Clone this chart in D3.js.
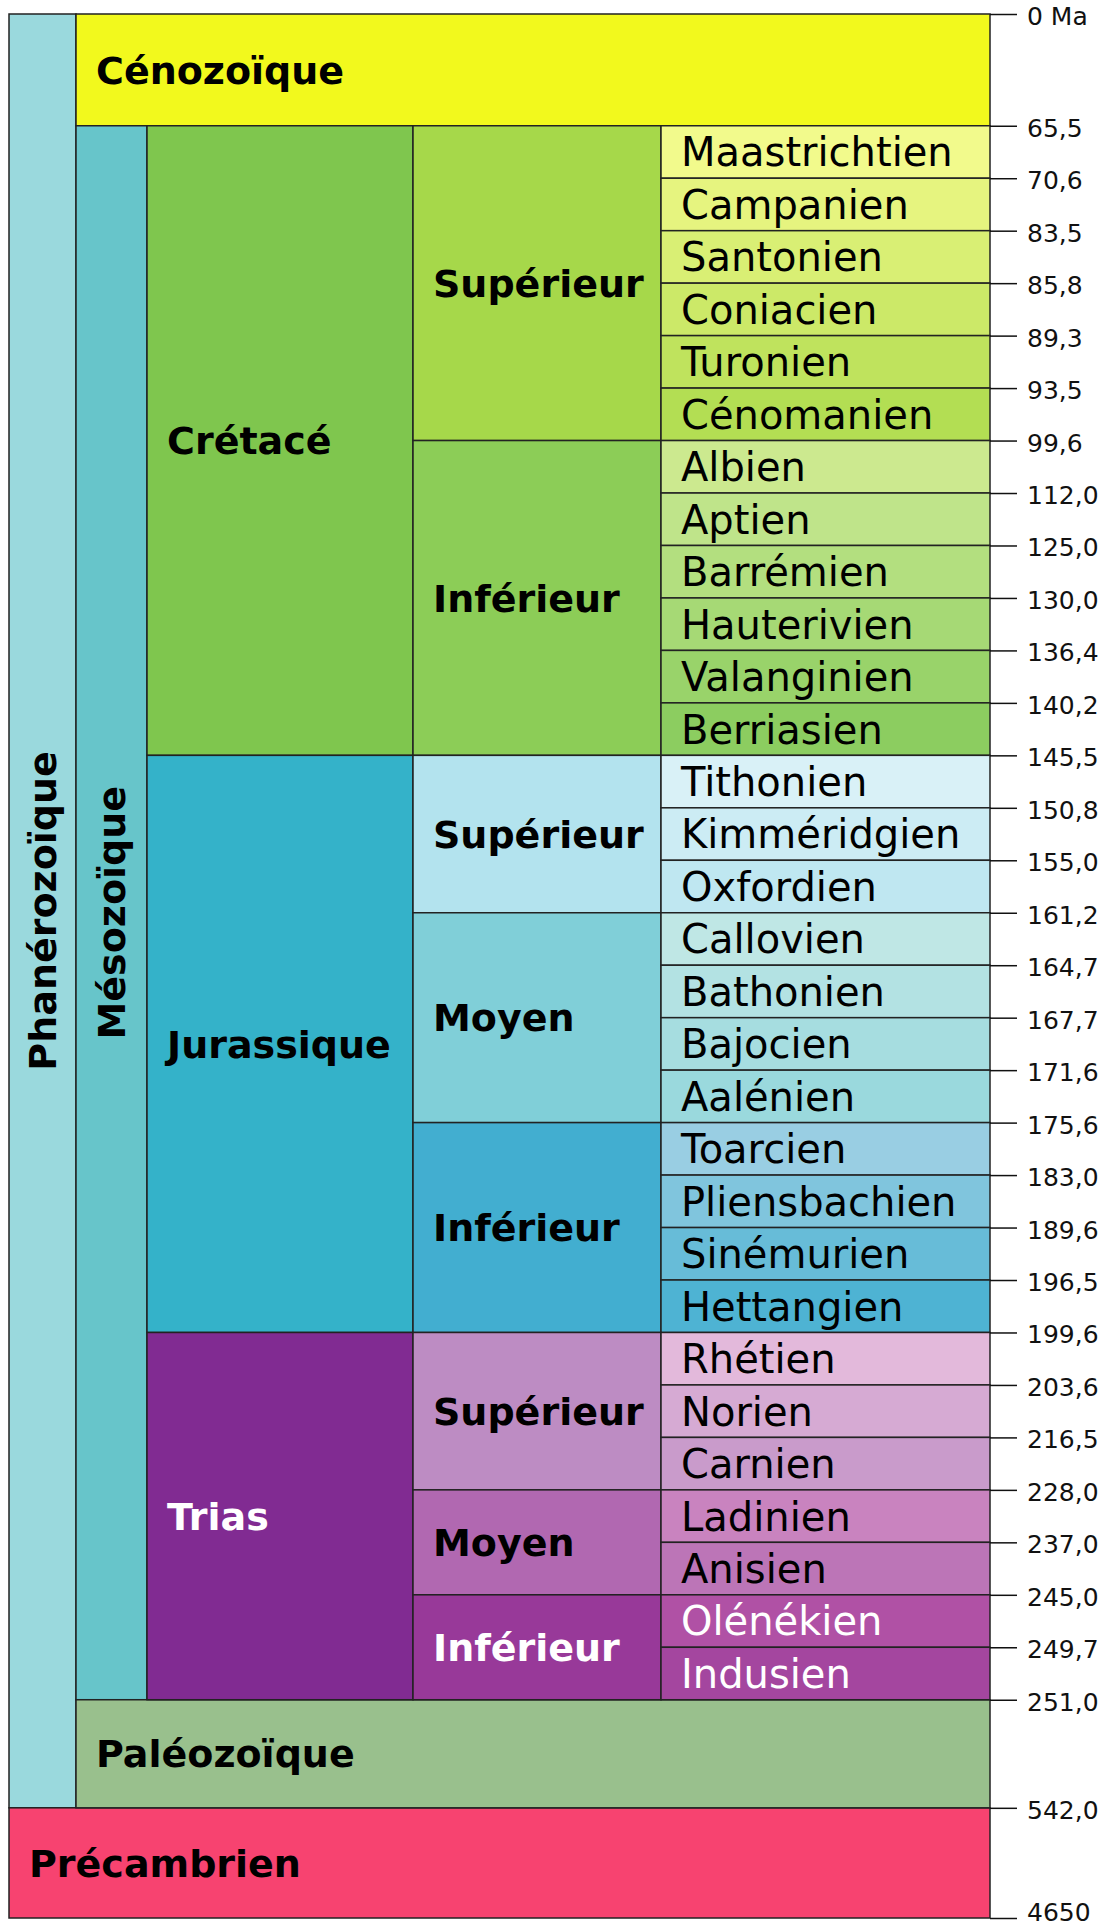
<!DOCTYPE html>
<html>
<head>
<meta charset="utf-8">
<script src="https://cdn.jsdelivr.net/npm/d3@7"></script>
<style>
  html, body { margin: 0; padding: 0; background: #fff; }
  svg { display: block; }
</style>
</head>
<body>
<div id="chart"></div>
<script>
// ---------- DATA ----------
// Boundary ages (Ma), top to bottom
const boundaries = [0, 65.5, 70.6, 83.5, 85.8, 89.3, 93.5, 99.6, 112.0, 125.0, 130.0, 136.4, 140.2,
  145.5, 150.8, 155.0, 161.2, 164.7, 167.7, 171.6, 175.6, 183.0, 189.6, 196.5, 199.6,
  203.6, 216.5, 228.0, 237.0, 245.0, 249.7, 251.0, 542.0, 4650];
const tickLabels = ["0 Ma", "65,5", "70,6", "83,5", "85,8", "89,3", "93,5", "99,6", "112,0", "125,0", "130,0", "136,4", "140,2",
  "145,5", "150,8", "155,0", "161,2", "164,7", "167,7", "171,6", "175,6", "183,0", "189,6", "196,5", "199,6",
  "203,6", "216,5", "228,0", "237,0", "245,0", "249,7", "251,0", "542,0", "4650"];

// Stages (étages), top to bottom; stage i spans boundaries[i+1]..boundaries[i+2]
const stageNames = ["Maastrichtien", "Campanien", "Santonien", "Coniacien", "Turonien", "Cénomanien",
  "Albien", "Aptien", "Barrémien", "Hauterivien", "Valanginien", "Berriasien",
  "Tithonien", "Kimméridgien", "Oxfordien", "Callovien", "Bathonien", "Bajocien", "Aalénien",
  "Toarcien", "Pliensbachien", "Sinémurien", "Hettangien",
  "Rhétien", "Norien", "Carnien", "Ladinien", "Anisien", "Olénékien", "Indusien"];
const stageColors = ["#f2fa8c", "#e6f47f", "#d9ef74", "#cce968", "#bfe35d", "#b3de53",
  "#cce98f", "#bfe48a", "#b3df7f", "#a6d975", "#99d36a", "#8ccd60",
  "#d9f1f7", "#ccecf4", "#bfe7f1", "#bfe7e5", "#b3e2e3", "#a6dde0", "#9ad9dd",
  "#99cee3", "#80c5dd", "#67bcd8", "#4eb3d3",
  "#e3b9db", "#d6aad3", "#c99bcb", "#c983bf", "#bc75b7", "#b051a5", "#a4469f"];
const stageText = ["#000","#000","#000","#000","#000","#000","#000","#000","#000","#000","#000","#000",
  "#000","#000","#000","#000","#000","#000","#000","#000","#000","#000","#000",
  "#000","#000","#000","#000","#000","#fff","#fff"];

// Epochs (séries)
const epochNames = ["Supérieur", "Inférieur", "Supérieur", "Moyen", "Inférieur", "Supérieur", "Moyen", "Inférieur"];
const epochStart = [65.5, 99.6, 145.5, 161.2, 175.6, 199.6, 228.0, 245.0];
const epochEnd   = [99.6, 145.5, 161.2, 175.6, 199.6, 228.0, 245.0, 251.0];
const epochColors = ["#a6d84a", "#8ccd57", "#b3e3ee", "#80cfd8", "#42aed0", "#bd8cc3", "#b168b1", "#983999"];
const epochText = ["#000", "#000", "#000", "#000", "#000", "#000", "#000", "#fff"];

// Periods (systèmes)
const periodNames = ["Crétacé", "Jurassique", "Trias"];
const periodStart = [65.5, 145.5, 199.6];
const periodEnd   = [145.5, 199.6, 251.0];
const periodColors = ["#7fc64e", "#34b2c9", "#812b92"];
const periodText = ["#000", "#000", "#fff"];

// Eras (ères)
const eraNames = ["Cénozoïque", "Mésozoïque", "Paléozoïque"];
const eraStart = [0, 65.5, 251.0];
const eraEnd   = [65.5, 251.0, 542.0];
const eraColors = ["#f2f91d", "#67c5ca", "#99c08d"];

// Eons (éons)
const eonNames = ["Phanérozoïque", "Précambrien"];
const eonStart = [0, 542.0];
const eonEnd   = [542.0, 4650];
const eonColors = ["#9ad9dd", "#f74370"];

// ---------- LAYOUT ----------
const W = 1112, H = 1926;
const yTop = 14, yBottom = 1918;
const colX = [9, 76, 147, 413, 661, 990];   // column edges
const tickLen = 27;
const pad = 20;
// display slots: each stage takes one slot, big units a bit more than two
const bigSlots = {0: 2.13, 31: 2.06, 32: 2.1}; // index of boundary interval -> slots
const slots = [0];
for (let i = 1; i < boundaries.length; i++) {
  slots.push(slots[i - 1] + (bigSlots[i - 1] !== undefined ? bigSlots[i - 1] : 1));
}
const slotScale = d3.scaleLinear().domain([0, slots[slots.length - 1]]).range([yTop, yBottom]);
const y = d3.scaleLinear().domain(boundaries).range(slots.map(s => slotScale(s)));

const svg = d3.select("#chart").append("svg").attr("width", W).attr("height", H);
const FONT = "'DejaVu Sans', sans-serif";
const stroke = "#222", sw = 1.5;

function box(x0, x1, a0, a1, fill) {
  svg.append("rect")
    .attr("x", x0).attr("y", y(a0))
    .attr("width", x1 - x0).attr("height", y(a1) - y(a0))
    .attr("fill", fill).attr("stroke", stroke).attr("stroke-width", sw);
}
function label(x, a0, a1, txt, color, bold, size) {
  svg.append("text")
    .attr("x", x).attr("y", (y(a0) + y(a1)) / 2)
    .attr("dy", "0.36em")
    .attr("font-family", FONT)
    .attr("font-weight", bold ? "bold" : "normal")
    .attr("font-size", size)
    .attr("fill", color)
    .text(txt);
}
function vlabel(x0, x1, a0, a1, txt, size) {
  const cx = (x0 + x1) / 2, cy = (y(a0) + y(a1)) / 2;
  svg.append("text")
    .attr("transform", `translate(${cx},${cy}) rotate(-90)`)
    .attr("text-anchor", "middle")
    .attr("dy", "0.36em")
    .attr("font-family", FONT).attr("font-weight", "bold")
    .attr("font-size", size).attr("fill", "#000")
    .text(txt);
}

// Eons
box(colX[0], colX[1], eonStart[0], eonEnd[0], eonColors[0]);
vlabel(colX[0], colX[1], eonStart[0], eonEnd[0], eonNames[0], 38);
box(colX[0], colX[5], eonStart[1], eonEnd[1], eonColors[1]);
label(colX[0] + pad, eonStart[1], eonEnd[1], eonNames[1], "#000", true, 38);

// Eras
box(colX[1], colX[5], eraStart[0], eraEnd[0], eraColors[0]);
label(colX[1] + pad, eraStart[0], eraEnd[0], eraNames[0], "#000", true, 38);
box(colX[1], colX[2], eraStart[1], eraEnd[1], eraColors[1]);
vlabel(colX[1], colX[2], eraStart[1], eraEnd[1], eraNames[1], 38);
box(colX[1], colX[5], eraStart[2], eraEnd[2], eraColors[2]);
label(colX[1] + pad, eraStart[2], eraEnd[2], eraNames[2], "#000", true, 38);

// Periods
periodNames.forEach((n, i) => {
  box(colX[2], colX[3], periodStart[i], periodEnd[i], periodColors[i]);
  label(colX[2] + pad, periodStart[i], periodEnd[i], n, periodText[i], true, 38);
});

// Epochs
epochNames.forEach((n, i) => {
  box(colX[3], colX[4], epochStart[i], epochEnd[i], epochColors[i]);
  label(colX[3] + pad, epochStart[i], epochEnd[i], n, epochText[i], true, 38);
});

// Stages
stageNames.forEach((n, i) => {
  const a0 = boundaries[i + 1], a1 = boundaries[i + 2];
  box(colX[4], colX[5], a0, a1, stageColors[i]);
  label(colX[4] + pad, a0, a1, n, stageText[i], false, 40);
});

// Age axis
const axis = d3.axisRight(y)
  .tickValues(boundaries)
  .tickFormat((d, i) => tickLabels[i])
  .tickSize(tickLen)
  .tickPadding(10);
const gAxis = svg.append("g").attr("transform", `translate(${colX[5]},0)`).call(axis);
gAxis.select(".domain").remove();
gAxis.selectAll(".tick line").attr("stroke", "#111").attr("stroke-width", sw);
gAxis.selectAll(".tick text")
  .attr("font-family", FONT).attr("font-size", 25).attr("fill", "#111")
  .attr("dy", (d, i) => i === boundaries.length - 1 ? "0.1em" : "0.42em");
</script>
</body>
</html>
